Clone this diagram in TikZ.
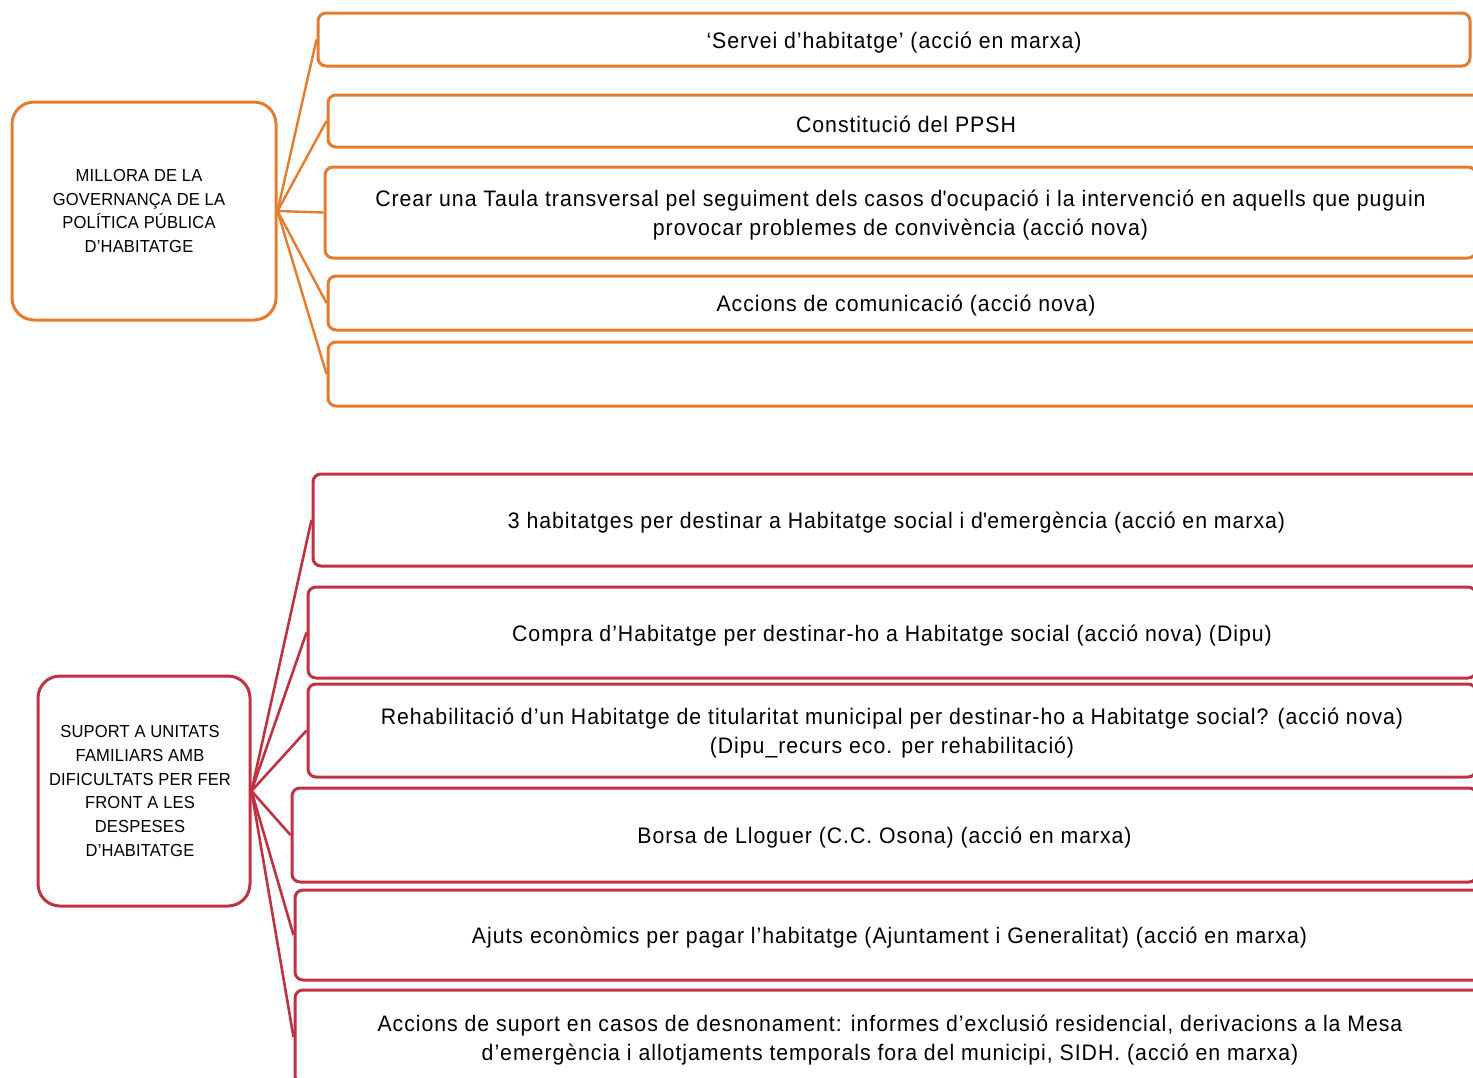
\documentclass[tikz,border=0pt]{standalone}
\usepackage{fontspec}
\setmainfont{Liberation Sans}[FakeStretch=0.95,LetterSpace=4.3]
\usetikzlibrary{fit}
\definecolor{ora}{RGB}{228,124,48}
\definecolor{rdd}{RGB}{190,50,66}
\begin{document}
\begin{tikzpicture}[x=0.5pt,y=-0.5pt,
  obox/.style={draw=ora,line width=1.5pt,rounded corners=4pt,inner sep=0pt},
  rbox/.style={obox,draw=rdd},
  omain/.style={draw=ora,line width=1.5pt,rounded corners=11pt,inner sep=0pt},
  rmain/.style={omain,draw=rdd},
  btxt/.style={inner sep=0pt,align=center,yshift=-1.5pt,font=\fontsize{11.2pt}{14.5pt}\selectfont},
  mtxt/.style={inner sep=0pt,align=center,font=\fontsize{8.7pt}{11.85pt}\selectfont\addfontfeature{LetterSpace=1}},
  oline/.style={draw=ora,line width=1.2pt},
  rline/.style={draw=rdd,line width=1.3pt}]
\useasboundingbox (0,0) rectangle (1473,1077);
\clip (0,0) rectangle (1473,1077);
% orange group
\node[omain,fit={(12,102) (276,320)}] (om) {};
\node[mtxt] (omt) at (139,211) {MILLORA DE LA\\GOVERNANÇA DE LA\\POLÍTICA PÚBLICA\\D’HABITATGE};
\node[obox,fit={(318,13) (1470,66)}] (o1) {};
\node[btxt] (o1t) at (o1.center) {‘Servei d’habitatge’ (acció en marxa)};
\node[obox,fit={(328,95) (1484,147)}] (o2) {};
\node[btxt] (o2t) at (o2.center) {Constitució del PPSH};
\node[obox,fit={(325,167) (1476,258)}] (o3) {};
\node[btxt] (o3t) at (o3.center) {Crear una Taula transversal pel seguiment dels casos d\textquotesingle ocupació i la intervenció en aquells que puguin\\provocar problemes de convivència (acció nova)};
\node[obox,fit={(328,276) (1484,330)}] (o4) {};
\node[btxt] (o4t) at (o4.center) {Accions de comunicació (acció nova)};
\node[obox,fit={(328,342) (1484,406)}] (o5) {};
\foreach \b in {o1,o2,o3,o4,o5} \draw[oline] (om.east) -- (\b.west);
% red group
\node[rmain,fit={(38,676) (250,906)}] (rm) {};
\node[mtxt] (rmt) at (140,791) {SUPORT A UNITATS\\FAMILIARS AMB\\DIFICULTATS PER FER\\FRONT A LES\\DESPESES\\D’HABITATGE};
\node[rbox,fit={(313,474) (1480,566)}] (r1) {};
\node[btxt] (r1t) at (r1.center) {3 habitatges per destinar a Habitatge social i d\textquotesingle emergència (acció en marxa)};
\node[rbox,fit={(308,587) (1476,678)}] (r2) {};
\node[btxt] (r2t) at (r2.center) {Compra d’Habitatge per destinar-ho a Habitatge social (acció nova) (Dipu)};
\node[rbox,fit={(308,684) (1476,777)}] (r3) {};
\node[btxt] (r3t) at (r3.center) {Rehabilitació d’un Habitatge de titularitat municipal per destinar-ho a Habitatge social? (acció nova)\\(Dipu\_recurs eco. per rehabilitació)};
\node[rbox,fit={(292,788) (1477,882)}] (r4) {};
\node[btxt] (r4t) at (r4.center) {Borsa de Lloguer (C.C. Osona) (acció en marxa)};
\node[rbox,fit={(295,890) (1484,980)}] (r5) {};
\node[btxt] (r5t) at (r5.center) {Ajuts econòmics per pagar l’habitatge (Ajuntament i Generalitat) (acció en marxa)};
\node[rbox,fit={(295,990) (1485,1084)}] (r6) {};
\node[btxt] (r6t) at (r6.center) {Accions de suport en casos de desnonament: informes d’exclusió residencial, derivacions a la Mesa\\d’emergència i allotjaments temporals fora del municipi, SIDH. (acció en marxa)};
\foreach \b in {r1,r2,r3,r4,r5,r6} \draw[rline] (rm.east) -- (\b.west);
\end{tikzpicture}
\end{document}
